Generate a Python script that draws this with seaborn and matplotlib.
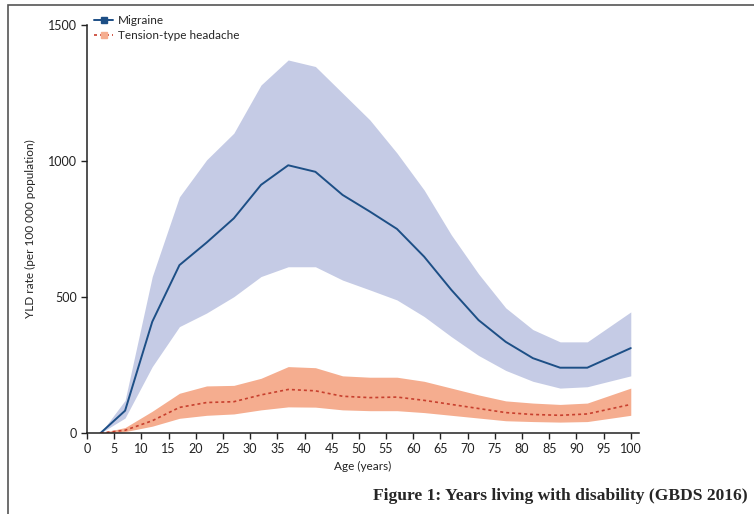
import matplotlib
matplotlib.use("Agg")
import matplotlib.pyplot as plt
import seaborn as sns
import pandas as pd
from matplotlib.lines import Line2D
from matplotlib.patches import Rectangle

# Data (age group midpoints)
age = [2.5, 7, 12, 17, 22, 27, 32, 37, 42, 47, 52, 57, 62, 67, 72, 77, 82, 87, 92, 100]

migraine = [0, 82, 409, 617, 700, 789, 912, 984, 960, 875, 814, 750, 648, 526, 415, 335, 275, 240, 240, 312]
migraine_hi = [0, 120, 575, 868, 1004, 1102, 1279, 1371, 1347, 1249, 1151, 1029, 893, 728, 585, 460, 380, 335, 335, 445]
migraine_lo = [0, 55, 244, 391, 441, 501, 575, 611, 611, 562, 526, 489, 428, 354, 285, 230, 190, 165, 170, 210]

tension = [0, 10, 45, 94, 112, 115, 140, 160, 155, 135, 130, 132, 120, 105, 90, 75, 68, 65, 70, 105]
tension_hi = [0, 20, 80, 146, 173, 175, 201, 244, 240, 210, 205, 205, 190, 165, 140, 118, 110, 105, 110, 165]
tension_lo = [0, 5, 25, 54, 65, 70, 85, 96, 95, 85, 82, 82, 75, 65, 55, 45, 42, 40, 42, 65]

df = pd.DataFrame({"age": age, "migraine": migraine, "tension": tension})

sns.set_style("ticks")
plt.rcParams['font.family'] = ['Lato', 'DejaVu Sans']

fig = plt.figure(figsize=(7.54, 5.14), dpi=100)
ax = fig.add_axes([0.1154, 0.1576, 0.732, 0.794])

blue_fill = "#c5cbe5"
blue_line = "#1d4f86"
orange_fill = "#f5ad8f"
orange_line = "#c8402e"

ax.fill_between(age, migraine_lo, migraine_hi, color=blue_fill, lw=0)
ax.fill_between(age, tension_lo, tension_hi, color=orange_fill, lw=0)
sns.lineplot(data=df, x="age", y="migraine", ax=ax, color=blue_line, lw=1.4)
sns.lineplot(data=df, x="age", y="tension", ax=ax, color=orange_line, lw=1.2, linestyle=(0, (1.8, 1.8)))

ax.set_xlim(0, 101.5)
ax.set_ylim(0, 1500)
ax.set_xticks(range(0, 101, 5))
ax.set_yticks([0, 500, 1000, 1500])
ax.tick_params(labelsize=9, length=4, width=1, colors="#222222")
sns.despine(ax=ax)
for s in ["left", "bottom"]:
    ax.spines[s].set_linewidth(1.1)
    ax.spines[s].set_color("#222222")

ax.set_xlabel("Age (years)", fontsize=8.5, color="#222222")
ax.set_ylabel("YLD rate (per 100 000 population)", fontsize=8.5, color="#222222", labelpad=8)

handles = [
    Line2D([], [], color=blue_line, lw=1.4, marker="s", markersize=4),
    Line2D([], [], color=orange_line, lw=1.2, linestyle=(0, (1.8, 1.8)), marker="s", markersize=4,
           markerfacecolor=orange_fill, markeredgecolor=orange_fill),
]
ax.legend(handles, ["Migraine", "Tension-type headache"], loc="upper left",
          bbox_to_anchor=(0.005, 1.035), frameon=False, fontsize=8.5,
          handlelength=1.6, handletextpad=0.4, labelspacing=0.3, borderaxespad=0)

# frame around the figure
fig.patches.append(Rectangle((8 / 754, -0.1), 1.2, 1 - 5 / 514 + 0.1, transform=fig.transFigure,
                             fill=False, edgecolor="#555555", lw=1.2))

fig.text(0.992, 0.02, "Figure 1: Years living with disability (GBDS 2016)", ha="right", va="bottom",
         fontsize=12.6, fontweight="bold", family="Liberation Serif")

fig.savefig("out.png", dpi=100)
